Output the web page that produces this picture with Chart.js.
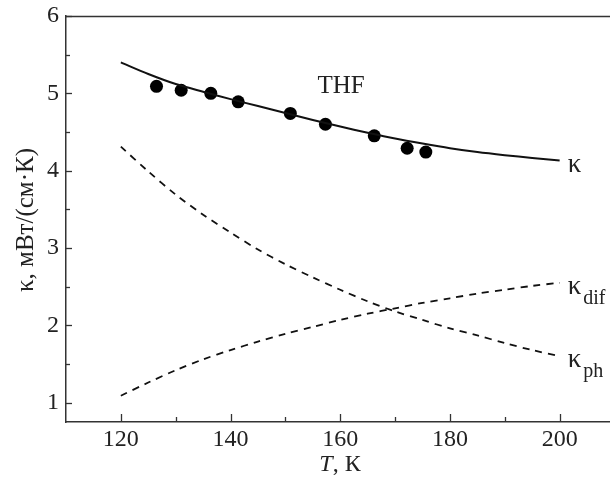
<!DOCTYPE html>
<html>
<head>
<meta charset="utf-8">
<script src="https://cdn.jsdelivr.net/npm/chart.js@4.4.1/dist/chart.umd.min.js"></script>
<style>
  html, body { margin: 0; padding: 0; background: #fff; overflow: hidden; }
  #wrap { width: 621px; height: 479px; }
</style>
</head>
<body>
<div id="wrap"><canvas id="c" width="621" height="479"></canvas></div>
<script>
// ---- data ----
const temps      = [120, 125, 130, 135, 140, 145, 150, 155, 160, 165, 170, 175, 180, 185, 190, 195, 200];
const kappa      = [5.40, 5.25, 5.12, 5.02, 4.925, 4.835, 4.745, 4.655, 4.57, 4.49, 4.415, 4.35, 4.29, 4.24, 4.20, 4.165, 4.13];
const kappaDif   = [1.09, 1.26, 1.42, 1.56, 1.68, 1.79, 1.89, 1.98, 2.07, 2.15, 2.22, 2.29, 2.35, 2.41, 2.46, 2.51, 2.55];
const kappaPh    = [4.31, 3.99, 3.69, 3.43, 3.20, 2.98, 2.79, 2.62, 2.46, 2.31, 2.18, 2.07, 1.96, 1.87, 1.77, 1.68, 1.60];
const measT      = [126.5, 131.0, 136.4, 141.4, 150.9, 157.3, 166.2, 172.2, 175.6];
const measKappa  = [5.09, 5.04, 5.00, 4.89, 4.74, 4.60, 4.45, 4.29, 4.24];
const xTickValues = [120, 130, 140, 150, 160, 170, 180, 190, 200];
const yTickValues = [1, 1.5, 2, 2.5, 3, 3.5, 4, 4.5, 5, 5.5, 6];
const xTitleItalic = 'T';
const xTitleRest = ', К';
const yTitle = 'κ, мВт/(см·К)';
const sampleLabel = 'THF';

const toPts = (xs, ys) => xs.map((x, i) => ({ x: x, y: ys[i] }));
const FONT = '"Liberation Serif", "Times New Roman", serif';
const INK = '#111';

const decor = {
  id: 'decor',
  afterDraw(chart) {
    const ctx = chart.ctx;
    const xs = chart.scales.x, ys = chart.scales.y;
    const a = chart.chartArea;
    ctx.save();
    ctx.strokeStyle = '#333';
    ctx.lineWidth = 1.5;
    ctx.beginPath();
    ctx.moveTo(a.left, a.top + 0.5);
    ctx.lineTo(a.right, a.top + 0.5);
    ctx.stroke();
    ctx.lineWidth = 1.3;
    xTickValues.forEach(v => {
      const px = Math.round(xs.getPixelForValue(v)) + 0.5;
      const len = (v % 20 === 0) ? 8 : 5;
      ctx.beginPath();
      ctx.moveTo(px, a.bottom);
      ctx.lineTo(px, a.bottom - len);
      ctx.stroke();
    });
    yTickValues.forEach(v => {
      const py = Math.round(ys.getPixelForValue(v)) + 0.5;
      const len = Number.isInteger(v) ? 6 : 4;
      ctx.beginPath();
      ctx.moveTo(a.left, py);
      ctx.lineTo(a.left + len, py);
      ctx.stroke();
    });
    ctx.fillStyle = '#222';
    ctx.textBaseline = 'alphabetic';
    ctx.font = 'italic 24px ' + FONT;
    const w1 = ctx.measureText(xTitleItalic).width;
    ctx.font = '24px ' + FONT;
    const w2 = ctx.measureText(xTitleRest).width;
    const cx = 340, by = 471;
    ctx.textAlign = 'left';
    ctx.font = 'italic 24px ' + FONT;
    ctx.fillText(xTitleItalic, cx - (w1 + w2) / 2, by);
    ctx.font = '24px ' + FONT;
    ctx.fillText(xTitleRest, cx - (w1 + w2) / 2 + w1, by);

    ctx.save();
    ctx.translate(33, 220);
    ctx.rotate(-Math.PI / 2);
    ctx.textAlign = 'center';
    ctx.font = '25px ' + FONT;
    ctx.fillText(yTitle, 0, 0);
    ctx.restore();

    ctx.textAlign = 'center';
    ctx.font = '25px ' + FONT;
    ctx.fillText(sampleLabel, 341, 93);

    const last = temps.length - 1;
    const ex = xs.getPixelForValue(temps[last]) + 8;
    const lab = (yv, sub) => {
      const py = ys.getPixelForValue(yv);
      ctx.textAlign = 'left';
      ctx.font = '27px ' + FONT;
      ctx.fillText('κ', ex, py + 11);
      if (sub) {
        const kw = ctx.measureText('κ').width;
        ctx.font = '20px ' + FONT;
        ctx.fillText(sub, ex + kw + 2, py + 21);
      }
    };
    lab(kappa[last], '');
    lab(kappaDif[last], 'dif');
    lab(kappaPh[last], 'ph');
    ctx.restore();
  }
};

function build() {
  new Chart(document.getElementById('c'), {
    type: 'scatter',
    data: {
      datasets: [
        { data: toPts(temps, kappa), showLine: true, borderColor: INK, borderWidth: 2, pointRadius: 0, tension: 0.3, fill: false },
        { data: toPts(temps, kappaDif), showLine: true, borderColor: INK, borderWidth: 1.8, borderDash: [7, 6], pointRadius: 0, tension: 0.3, fill: false },
        { data: toPts(temps, kappaPh), showLine: true, borderColor: INK, borderWidth: 1.8, borderDash: [7, 6], pointRadius: 0, tension: 0.3, fill: false },
        { data: toPts(measT, measKappa), showLine: false, pointRadius: 6.5, pointBackgroundColor: '#000', pointBorderColor: '#000', pointBorderWidth: 0 }
      ]
    },
    options: {
      responsive: false,
      animation: false,
      devicePixelRatio: 1,
      layout: { padding: { top: 16, left: 0, right: 0, bottom: 0 } },
      plugins: { legend: { display: false }, tooltip: { enabled: false } },
      scales: {
        x: {
          type: 'linear', min: 110, max: 210,
          grid: { display: false, drawTicks: false },
          border: { display: true, color: '#333', width: 1.5 },
          afterBuildTicks: s => { s.ticks = xTickValues.map(v => ({ value: v })); },
          afterFit: s => { s.height = 57; s.paddingLeft = 0; s.paddingRight = 0; },
          ticks: {
            autoSkip: false, maxRotation: 0, padding: 3, color: '#222',
            font: { family: FONT, size: 24 },
            callback: v => (v % 20 === 0 ? String(v) : '')
          }
        },
        y: {
          type: 'linear', min: 0.75, max: 6,
          grid: { display: false, drawTicks: false },
          border: { display: true, color: '#333', width: 1.5 },
          afterBuildTicks: s => { s.ticks = yTickValues.map(v => ({ value: v })); },
          afterFit: s => { s.width = 66; s.paddingTop = 0; s.paddingBottom = 0; },
          ticks: {
            autoSkip: false, padding: 7, color: '#222',
            font: { family: FONT, size: 24 },
            callback: v => (Number.isInteger(v) ? String(v) : '')
          }
        }
      }
    },
    plugins: [decor]
  });
}

const fontLoads = ['24px "Liberation Serif"', 'italic 24px "Liberation Serif"'].map(f => document.fonts.load(f, 'Tκм'));
Promise.all(fontLoads).then(build, build);
</script>
</body>
</html>
